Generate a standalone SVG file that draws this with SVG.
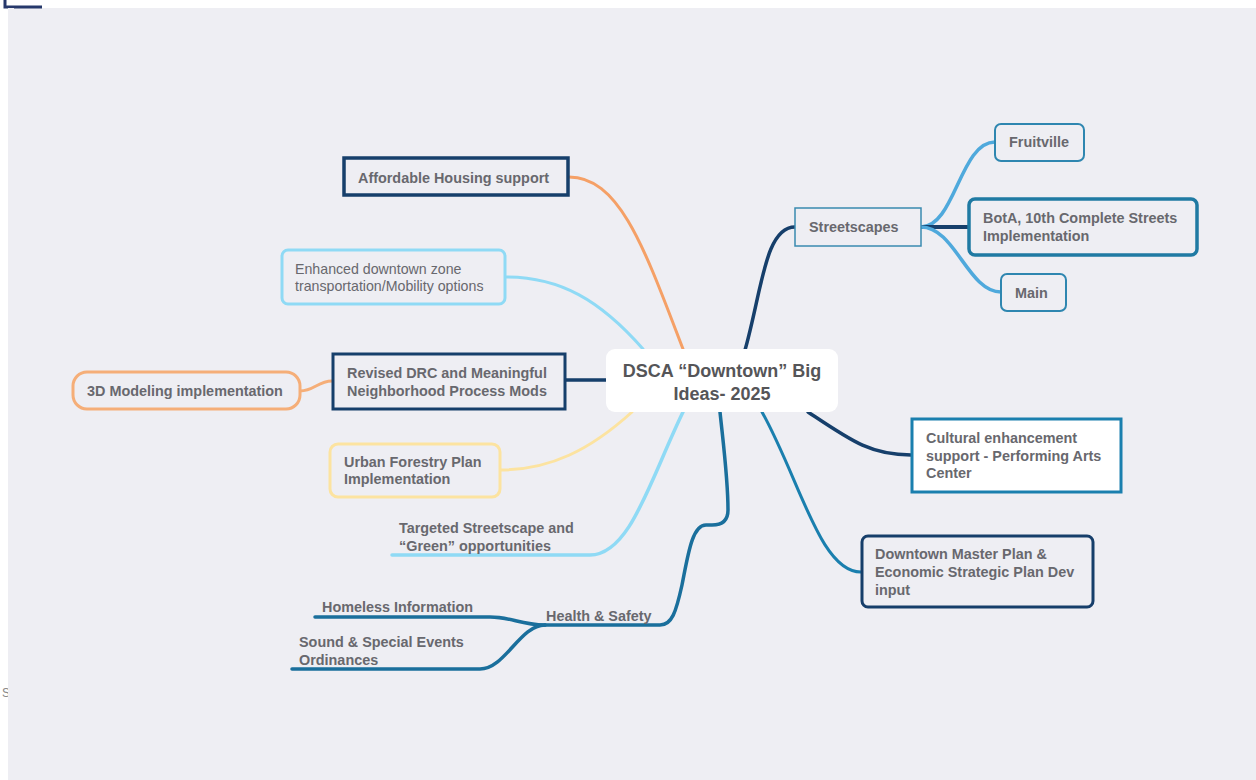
<svg xmlns="http://www.w3.org/2000/svg" width="1256" height="780" viewBox="0 0 1256 780">
<style>
.t{font-family:"Liberation Sans",Arial,sans-serif;font-size:14.4px;font-weight:bold;fill:#68686e}
.r{font-weight:normal;font-size:14.2px}
.c{font-size:18px;fill:#555558;text-anchor:middle}
.ln{fill:none;stroke-linecap:round}
</style>
<rect x="0" y="0" width="1256" height="780" fill="#ffffff"/>
<rect x="8" y="8" width="1248" height="772" fill="#eeeef3"/>
<path d="M5,0 L5,7 L42,7" fill="none" stroke="#26386b" stroke-width="3"/>
<text x="2" y="697" class="t r" style="font-size:12px;fill:#888">S</text>
<rect x="8" y="8" width="6" height="772" fill="#eeeef3"/>
<g id="connectors">
<path class="ln" d="M745,350 C762,290 765,227 795,227" stroke="#163f6b" stroke-width="3.5"/>
<path class="ln" d="M921,227 C955,227 960,142 995,142" stroke="#4fa9dc" stroke-width="3.5"/>
<path class="ln" d="M921,227 L968,227" stroke="#163f6b" stroke-width="4"/>
<path class="ln" d="M921,227 C955,227 968,292 1001,292" stroke="#4fa9dc" stroke-width="3.5"/>
<path class="ln" d="M808,412 C850,440 870,455 911,455" stroke="#163f6b" stroke-width="3.5"/>
<path class="ln" d="M762,412 C800,480 820,572 861,572" stroke="#1a7fae" stroke-width="3"/>
<path class="ln" d="M683,349 C645,250 620,177 569,177" stroke="#f5a066" stroke-width="3"/>
<path class="ln" d="M643,349 C600,300 560,277 506,277" stroke="#8fdaf5" stroke-width="3"/>
<path class="ln" d="M606,380 L566,380" stroke="#163f6b" stroke-width="3.5"/>
<path class="ln" d="M332,381 C318,381 314,391 300,391" stroke="#f5ae78" stroke-width="3"/>
<path class="ln" d="M632,412 C590,450 550,470 500,470" stroke="#fce3a0" stroke-width="3"/>
<path class="ln" d="M683,412 C650,480 630,555 590,555 L392,555" stroke="#8fdaf5" stroke-width="3.5"/>
<path class="ln" d="M720,412 C724,450 728,480 728,510 Q728,525 712,525 L706,525 C692,525 688,555 682,585 C676,612 672,625 660,625 L545,625" stroke="#1a6f9c" stroke-width="3.5"/>
<path class="ln" d="M545,625 C520,625 512,617 490,617 L315,617" stroke="#1a6f9c" stroke-width="3.5"/>
<path class="ln" d="M545,625 C520,625 505,669 480,669 L292,669" stroke="#1a6f9c" stroke-width="3.5"/>
</g>
<g id="central">
<rect x="606" y="349" width="232" height="63" rx="9" fill="#ffffff"/>
<text class="t c" x="722" y="377">DSCA “Downtown” Big</text>
<text class="t c" x="722" y="400">Ideas- 2025</text>
</g>
<g id="streetscapes">
<rect x="795" y="208" width="126" height="38" fill="#eeeef3" stroke="#3a8ab0" stroke-width="1.5"/>
<text class="t" x="809" y="232">Streetscapes</text>
</g>
<g id="fruitville">
<rect x="995" y="124" width="89" height="37" rx="6" fill="#eeeef3" stroke="#2e86b0" stroke-width="2"/>
<text class="t" x="1009" y="147">Fruitville</text>
</g>
<g id="bota">
<rect x="969" y="199" width="228" height="56" rx="6" fill="#eeeef3" stroke="#1f7aa3" stroke-width="3.5"/>
<text class="t" x="983" y="223">BotA, 10th Complete Streets</text>
<text class="t" x="983" y="241">Implementation</text>
</g>
<g id="main">
<rect x="1001" y="274" width="65" height="37" rx="6" fill="#eeeef3" stroke="#2e86b0" stroke-width="2"/>
<text class="t" x="1015" y="298">Main</text>
</g>
<g id="cultural">
<rect x="912" y="419" width="209" height="73" fill="#ffffff" stroke="#1a7fae" stroke-width="3"/>
<text class="t" x="926" y="443">Cultural enhancement</text>
<text class="t" x="926" y="461">support - Performing Arts</text>
<text class="t" x="926" y="478">Center</text>
</g>
<g id="masterplan">
<rect x="862" y="536" width="231" height="71" rx="6" fill="#eeeef3" stroke="#163e6a" stroke-width="3"/>
<text class="t" x="875" y="559">Downtown Master Plan &amp;</text>
<text class="t" x="875" y="577">Economic Strategic Plan Dev</text>
<text class="t" x="875" y="595">input</text>
</g>
<g id="affordable">
<rect x="344" y="158" width="224" height="37" fill="#eeeef3" stroke="#163f6b" stroke-width="3.5"/>
<text class="t" x="358" y="183">Affordable Housing support</text>
</g>
<g id="enhanced">
<rect x="282" y="250" width="223" height="54" rx="6" fill="#eeeef3" stroke="#8fdaf5" stroke-width="3"/>
<text class="t r" x="295" y="274">Enhanced downtown zone</text>
<text class="t r" x="295" y="291">transportation/Mobility options</text>
</g>
<g id="revised">
<rect x="333" y="354" width="232" height="55" fill="#eeeef3" stroke="#163f6b" stroke-width="3"/>
<text class="t" x="347" y="378">Revised DRC and Meaningful</text>
<text class="t" x="347" y="396">Neighborhood Process Mods</text>
</g>
<g id="modeling">
<rect x="73" y="372" width="227" height="37" rx="14" fill="#eeeef3" stroke="#f5ae78" stroke-width="3"/>
<text class="t" x="87" y="396">3D Modeling implementation</text>
</g>
<g id="forestry">
<rect x="330" y="444" width="170" height="53" rx="8" fill="#eeeef3" stroke="#fce3a0" stroke-width="3"/>
<text class="t" x="344" y="467">Urban Forestry Plan</text>
<text class="t" x="344" y="484">Implementation</text>
</g>
<g id="targeted">
<text class="t" x="399" y="533">Targeted Streetscape and</text>
<text class="t" x="399" y="551">“Green” opportunities</text>
</g>
<g id="health">
<text class="t" x="546" y="621">Health &amp; Safety</text>
</g>
<g id="homeless">
<text class="t" x="322" y="612">Homeless Information</text>
</g>
<g id="sound">
<text class="t" x="299" y="647">Sound &amp; Special Events</text>
<text class="t" x="299" y="665">Ordinances</text>
</g>
</svg>
